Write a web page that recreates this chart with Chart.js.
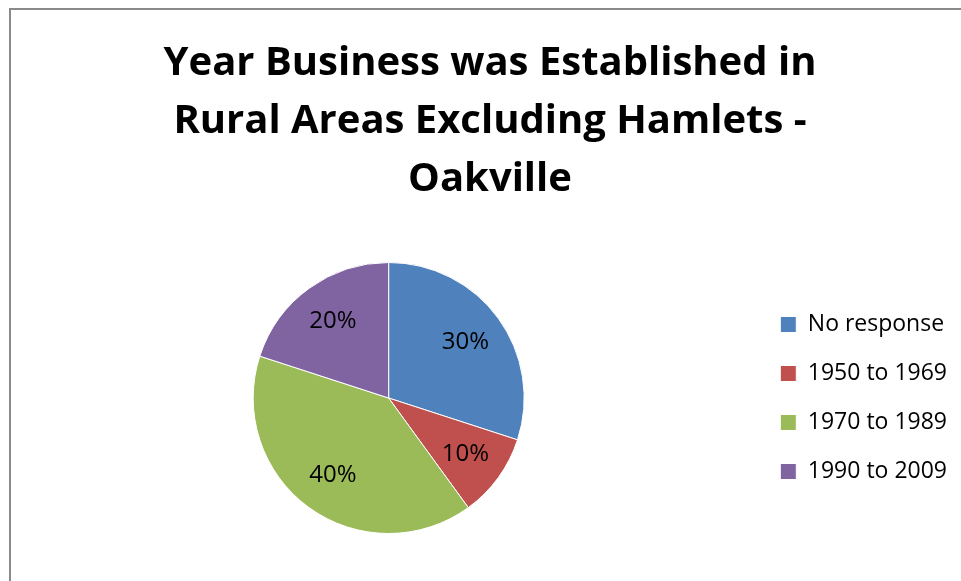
<!DOCTYPE html>
<html>
<head>
<meta charset="utf-8">
<script src="https://cdn.jsdelivr.net/npm/chart.js"></script>
<style>
  body { margin: 0; background: #fff; }
  #frame {
    position: absolute; left: 9px; top: 8px; width: 1000px; height: 620px;
    border-left: 2px solid #8a8a8a; border-top: 2px solid #8a8a8a;
  }
  #chart { position: absolute; left: 0; top: 0; }
</style>
</head>
<body>
<div id="frame"></div>
<canvas id="chart" width="961" height="581"></canvas>
<script>
const titleLines = ['Year Business was Established in', 'Rural Areas Excluding Hamlets -', 'Oakville'];
const categories = ['No response', '1950 to 1969', '1970 to 1989', '1990 to 2009'];
const shares = [30, 10, 40, 20];
const colors = ['#4F81BD', '#C0504D', '#9BBB59', '#8064A2'];

// percent labels inside the slices
const sliceLabels = {
    id: 'sliceLabels',
    afterDatasetsDraw(chart) {
        const ctx = chart.ctx;
        const meta = chart.getDatasetMeta(0);
        const total = shares.reduce((a, b) => a + b, 0);
        ctx.save();
        ctx.font = '24px "Open Sans"';
        ctx.fillStyle = '#000';
        ctx.textAlign = 'center';
        ctx.textBaseline = 'middle';
        meta.data.forEach((arc, i) => {
            const p = arc.getProps(['x', 'y', 'startAngle', 'endAngle', 'outerRadius'], true);
            const mid = (p.startAngle + p.endAngle) / 2;
            const r = p.outerRadius * 0.7;
            const pct = Math.round(shares[i] / total * 100) + '%';
            ctx.fillText(pct, p.x + Math.cos(mid) * r, p.y + Math.sin(mid) * r);
        });
        ctx.restore();
    }
};

new Chart(document.getElementById('chart'), {
    type: 'pie',
    data: {
        labels: categories,
        datasets: [{
            data: shares,
            backgroundColor: colors,
            borderColor: '#ffffff',
            borderWidth: 1
        }]
    },
    options: {
        responsive: false,
        animation: false,
        layout: { padding: { left: 23, right: 4, top: 0, bottom: 47 } },
        plugins: {
            title: {
                display: true,
                text: titleLines,
                color: '#000',
                font: { family: 'Open Sans', size: 40, weight: 'bold', lineHeight: 1.45 },
                padding: { top: 35, bottom: 53 }
            },
            legend: {
                position: 'right',
                fullSize: false,
                maxWidth: 204,
                labels: {
                    color: '#000',
                    font: { family: 'Open Sans', size: 23 },
                    boxWidth: 16,
                    boxHeight: 16,
                    padding: 26
                }
            },
            tooltip: { enabled: false }
        }
    },
    plugins: [sliceLabels]
});
</script>
</body>
</html>
